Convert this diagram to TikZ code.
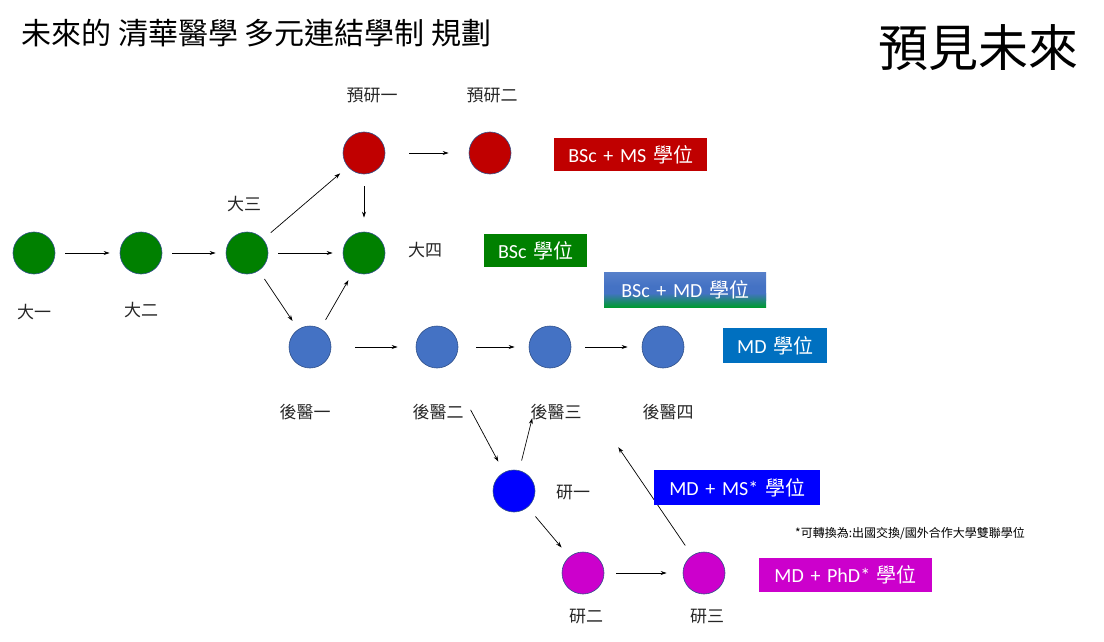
\documentclass[tikz,border=0pt]{standalone}
\usepackage{fontspec}
\setmainfont{Carlito}
\newfontfamily\cjk{Noto Sans CJK TC}
\usetikzlibrary{arrows.meta}
\definecolor{cg}{RGB}{0,128,0}
\definecolor{cr}{RGB}{192,0,0}
\definecolor{cb}{RGB}{68,114,196}
\definecolor{cbl}{RGB}{0,0,255}
\definecolor{cm}{RGB}{204,0,204}
\definecolor{cmd}{RGB}{0,112,192}
\begin{document}
\begin{tikzpicture}[x=1pt,y=-1pt,
  dot/.style={circle,draw=cb!70!black,line width=0.6pt,minimum size=42pt,inner sep=0pt},
  lab/.style={font=\cjk\fontsize{17}{17}\selectfont,text=black!85},
  box/.style={anchor=north west,text=white,inner sep=0pt,font=\fontsize{20}{20}\selectfont},
  arr/.style={-{Stealth[length=6pt,width=4pt]},line width=0.7pt,shorten <=10pt,shorten >=10pt}]
\useasboundingbox (0,0) rectangle (1104,642);
\node[anchor=west,font=\cjk\fontsize{30}{30}\selectfont] (title) at (18,33) {未來的\ 清華醫學\ 多元連結學制\ 規劃};
\node[font=\cjk\fontsize{50}{50}\selectfont] (future) at (978,48) {預見未來};
% nodes
\node[dot,fill=cg] (y1) at (34,253) {};
\node[dot,fill=cg] (y2) at (141,253) {};
\node[dot,fill=cg] (y3) at (247,253) {};
\node[dot,fill=cg] (y4) at (364,253) {};
\node[dot,fill=cr] (p1) at (364,153) {};
\node[dot,fill=cr] (p2) at (490,153) {};
\node[dot,fill=cb] (m1) at (310,347) {};
\node[dot,fill=cb] (m2) at (437,347) {};
\node[dot,fill=cb] (m3) at (550,347) {};
\node[dot,fill=cb] (m4) at (663,347) {};
\node[dot,fill=cbl] (r1) at (514,491) {};
\node[dot,fill=cm] (r2) at (583,573) {};
\node[dot,fill=cm] (r3) at (704,573) {};
% labels
\node[lab] (l1) at (34,312) {大一};
\node[lab] (l2) at (141,310) {大二};
\node[lab] (l3) at (244,204) {大三};
\node[lab] (l4) at (425,250) {大四};
\node[lab] (lp1) at (372,95) {預研一};
\node[lab] (lp2) at (492,95) {預研二};
\node[lab] (lm1) at (305,412) {後醫一};
\node[lab] (lm2) at (438,412) {後醫二};
\node[lab] (lm3) at (556,412) {後醫三};
\node[lab] (lm4) at (668,412) {後醫四};
\node[lab] (lr1) at (573,493) {研一};
\node[lab] (lr2) at (586,617) {研二};
\node[lab] (lr3) at (707,617) {研三};
% arrows
\draw[arr] (y1) -- (y2);
\draw[arr] (y2) -- (y3);
\draw[arr] (y3) -- (p1);
\draw[arr] (y3) -- (y4);
\draw[arr] (y3) -- (m1);
\draw[arr] (m1) -- (y4);
\draw[arr,shorten <=12pt,shorten >=14pt] (p1) -- (y4);
\draw[arr,shorten <=24pt,shorten >=20pt] (p1) -- (p2);
\draw[arr,shorten <=24pt,shorten >=18pt] (m1) -- (m2);
\draw[arr,shorten <=18pt,shorten >=14pt] (m2) -- (m3);
\draw[arr,shorten <=14pt,shorten >=14pt] (m3) -- (m4);
\draw[arr,shorten <=50pt,shorten >=12pt] (m2) -- (r1);
\draw[arr,shorten <=10pt,shorten >=52pt] (r1) -- (m3);
\draw[arr,shorten <=12pt,shorten >=12pt] (r1) -- (r2);
\draw[arr,shorten <=12pt,shorten >=16pt] (r2) -- (r3);
\draw[arr,shorten <=12pt,shorten >=100pt] (r3) -- (m3);
% boxes
\node[box,fill=cr,minimum width=153pt,minimum height=33pt,text width=153pt,align=center] (b1) at (554,138) {BSc + MS {\cjk 學位}};
\node[box,fill=cg,minimum width=103pt,minimum height=33pt,text width=103pt,align=center] (b2) at (484,234) {BSc {\cjk 學位}};
\shade[top color=cb!90,bottom color=cb,middle color=cb] (604,272) rectangle (766,300);
\shade[top color=cb,bottom color=cg!80!cyan] (604,293) rectangle (766,307);
\node[box,minimum width=162pt,minimum height=35pt,text width=162pt,align=center] (b3) at (604,272) {BSc + MD {\cjk 學位}};
\node[box,fill=cmd,minimum width=104pt,minimum height=35pt,text width=104pt,align=center] (b4) at (723,328) {MD {\cjk 學位}};
\node[box,fill=cbl,minimum width=166pt,minimum height=35pt,text width=166pt,align=center] (b5) at (654,470) {MD + MS* {\cjk 學位}};
\node[box,fill=cm,minimum width=173pt,minimum height=34pt,text width=173pt,align=center] (b6) at (759,558) {MD + PhD* {\cjk 學位}};
\node[font=\cjk\fontsize{12}{12}\selectfont] (note) at (910,533) {*可轉換為:出國交換/國外合作大學雙聯學位};
\end{tikzpicture}
\end{document}
